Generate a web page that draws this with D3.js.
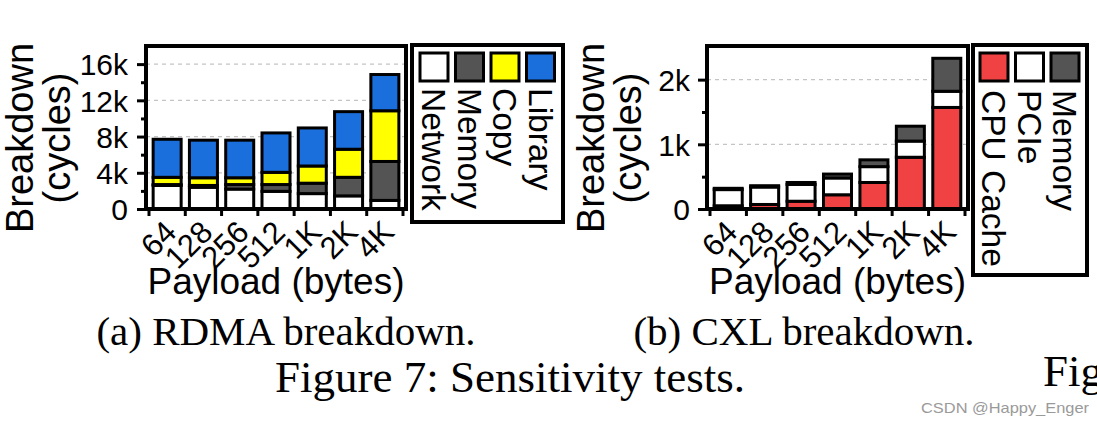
<!DOCTYPE html>
<html>
<head>
<meta charset="utf-8">
<script src="https://cdn.jsdelivr.net/npm/d3@7/dist/d3.min.js"></script>
<style>
  html, body { margin: 0; padding: 0; background: #fff; }
  svg { display: block; }
</style>
</head>
<body>
<script>
// ---------------- DATA ----------------
const categories = ["64", "128", "256", "512", "1K", "2K", "4K"];

// (a) RDMA breakdown, cycles (stack order bottom -> top)
const rdmaNames   = ["Network", "Memory", "Copy", "Library"];
const rdmaNetwork = [2600, 2400, 2200, 1950, 1700, 1450, 950];
const rdmaMemory  = [100, 200, 500, 750, 1150, 2050, 4300];
const rdmaCopy    = [800, 850, 750, 1350, 1900, 3100, 5600];
const rdmaLibrary = [4200, 4150, 4150, 4350, 4200, 4150, 4000];
const rdmaMajorTicks = [0, 4000, 8000, 12000, 16000];
const rdmaMinorTicks = [2000, 6000, 10000, 14000];

// (b) CXL breakdown, cycles (stack order bottom -> top)
const cxlNames    = ["CPU Cache", "PCIe", "Memory"];
const cxlCpuCache = [50, 70, 120, 220, 410, 800, 1570];
const cxlPcie     = [250, 270, 260, 260, 245, 250, 250];
const cxlMemory   = [20, 20, 30, 60, 105, 230, 510];
const cxlMajorTicks = [0, 1000, 2000];
const cxlMinorTicks = [500, 1500];

const captionA = "(a) RDMA breakdown.";
const captionB = "(b) CXL breakdown.";
const figCaption = "Figure 7: Sensitivity tests.";

// ---------------- DRAW ----------------
const W = 1097, H = 422;
const SANS = "'Liberation Sans', Arial, Helvetica, sans-serif";
const SERIF = "'Liberation Serif', 'Times New Roman', serif";

const svg = d3.select("body").append("svg")
  .attr("width", W).attr("height", H)
  .attr("viewBox", `0 0 ${W} ${H}`);
svg.append("rect").attr("width", W).attr("height", H).attr("fill", "#fff");

const kfmt = d => d === 0 ? "0" : (d / 1000) + "k";

function panel(cfg) {
  const top = 46, bottom = 209;
  const g = svg.append("g");

  const x = d3.scaleBand().domain(categories).range(cfg.band).padding(0);
  const y = d3.scaleLinear().domain([0, cfg.yMax]).range([bottom, top]);

  // grid
  g.append("g").selectAll("line").data(cfg.majors.filter(d => d > 0)).join("line")
    .attr("x1", cfg.frame[0]).attr("x2", cfg.frame[1])
    .attr("y1", d => y(d)).attr("y2", d => y(d))
    .attr("stroke", "#c4c4c4").attr("stroke-width", 1.3)
    .attr("stroke-dasharray", "4,4");

  // stacked bars
  const rows = categories.map((c, i) => {
    const r = { cat: c };
    cfg.names.forEach((n, k) => r[n] = cfg.values[k][i]);
    return r;
  });
  const stack = d3.stack().keys(cfg.names)(rows);
  const barW = 28;
  stack.forEach((layer, k) => {
    g.append("g").selectAll("rect").data(layer).join("rect")
      .attr("x", d => x(d.data.cat) + (x.bandwidth() - barW) / 2)
      .attr("width", barW)
      .attr("y", d => y(d[1]))
      .attr("height", d => y(d[0]) - y(d[1]))
      .attr("fill", cfg.colors[k])
      .attr("stroke", "#000").attr("stroke-width", 3);
  });

  // y axis (major + minor ticks)
  const axMinor = g.append("g").attr("transform", `translate(${cfg.frame[0]},0)`)
    .call(d3.axisLeft(y).tickValues(cfg.minors).tickSize(5).tickFormat(""));
  const axMajor = g.append("g").attr("transform", `translate(${cfg.frame[0]},0)`)
    .call(d3.axisLeft(y).tickValues(cfg.majors).tickSize(9).tickPadding(cfg.tickPad).tickFormat(kfmt));
  [axMinor, axMajor].forEach(a => {
    a.select(".domain").remove();
    a.selectAll(".tick line").attr("stroke", "#000").attr("stroke-width", 3);
    a.selectAll(".tick text").attr("font-family", SANS).attr("font-size", 30)
      .attr("fill", "#000").attr("dy", "0.36em");
  });

  // x ticks at band edges
  const edges = categories.map(c => x(c)).concat([x(categories[categories.length - 1]) + x.bandwidth()]);
  g.append("g").selectAll("line").data(edges).join("line")
    .attr("x1", d => d).attr("x2", d => d)
    .attr("y1", bottom).attr("y2", bottom + 7)
    .attr("stroke", "#000").attr("stroke-width", 3);

  // x tick labels
  g.append("g").selectAll("text").data(categories).join("text")
    .attr("transform", c => `translate(${x(c) + x.bandwidth() / 2 + 11},${234}) rotate(-45)`)
    .attr("text-anchor", "end")
    .attr("font-family", SANS).attr("font-size", 31)
    .text(c => c);

  // frame
  g.append("rect")
    .attr("x", cfg.frame[0]).attr("y", top)
    .attr("width", cfg.frame[1] - cfg.frame[0]).attr("height", bottom - top)
    .attr("fill", "none").attr("stroke", "#000").attr("stroke-width", 4);

  // axis titles
  g.append("text")
    .attr("x", (cfg.frame[0] + cfg.frame[1]) / 2).attr("y", 294)
    .attr("text-anchor", "middle")
    .attr("font-family", SANS).attr("font-size", 37)
    .text("Payload (bytes)");
  [["Breakdown", cfg.ylab[0]], ["(cycles)", cfg.ylab[1]]].forEach(([t, bx]) => {
    g.append("text")
      .attr("transform", `translate(${bx},138) rotate(-90)`)
      .attr("text-anchor", "middle")
      .attr("font-family", SANS).attr("font-size", 38)
      .text(t);
  });

  // legend
  const L = cfg.legend;
  g.append("rect").attr("x", L.x0).attr("y", 45)
    .attr("width", L.x1 - L.x0).attr("height", L.y1 - 45)
    .attr("fill", "#fff").attr("stroke", "#000").attr("stroke-width", 4);
  const lg = g.append("g").selectAll("g").data(cfg.names).join("g")
    .attr("transform", (d, i) => `translate(${L.sx + i * L.step},0)`);
  lg.append("rect").attr("x", 0).attr("y", 53).attr("width", 28).attr("height", 28)
    .attr("fill", (d, i) => cfg.colors[i]).attr("stroke", "#000").attr("stroke-width", 3);
  lg.append("text")
    .attr("transform", `translate(${14 - 12},${L.ty}) rotate(90)`)
    .attr("font-family", SANS).attr("font-size", 33.5)
    .text(d => d);
}

panel({
  names: rdmaNames,
  values: [rdmaNetwork, rdmaMemory, rdmaCopy, rdmaLibrary],
  colors: ["#ffffff", "#545454", "#ffff00", "#1b6fdc"],
  yMax: 18000,
  majors: rdmaMajorTicks, minors: rdmaMinorTicks,
  band: [149, 403], frame: [146, 406], tickPad: 9,
  ylab: [33, 70],
  legend: { x0: 412, x1: 563, y1: 222, sx: 420, step: 35.5, ty: 88 }
});

panel({
  names: cxlNames,
  values: [cxlCpuCache, cxlPcie, cxlMemory],
  colors: ["#f04242", "#ffffff", "#545454"],
  yMax: 2520,
  majors: cxlMajorTicks, minors: cxlMinorTicks,
  band: [710, 965], frame: [707, 968], tickPad: 8,
  ylab: [604, 641],
  legend: { x0: 973, x1: 1087, y1: 275, sx: 980, step: 35.5, ty: 90 }
});

// captions
svg.append("text").attr("x", 286).attr("y", 345).attr("text-anchor", "middle")
  .attr("font-family", SERIF).attr("font-size", 41).text(captionA);
svg.append("text").attr("x", 804).attr("y", 345).attr("text-anchor", "middle")
  .attr("font-family", SERIF).attr("font-size", 41).text(captionB);
svg.append("text").attr("x", 510).attr("y", 392).attr("text-anchor", "middle")
  .attr("font-family", SERIF).attr("font-size", 45).text(figCaption);
svg.append("text").attr("x", 1043).attr("y", 386)
  .attr("font-family", SERIF).attr("font-size", 45).text("Fig");
svg.append("text").attr("x", 921).attr("y", 413)
  .attr("font-family", SANS).attr("font-size", 15).attr("fill", "#9a9a9a")
  .attr("textLength", 168).attr("lengthAdjust", "spacingAndGlyphs")
  .text("CSDN @Happy_Enger");
</script>
</body>
</html>
